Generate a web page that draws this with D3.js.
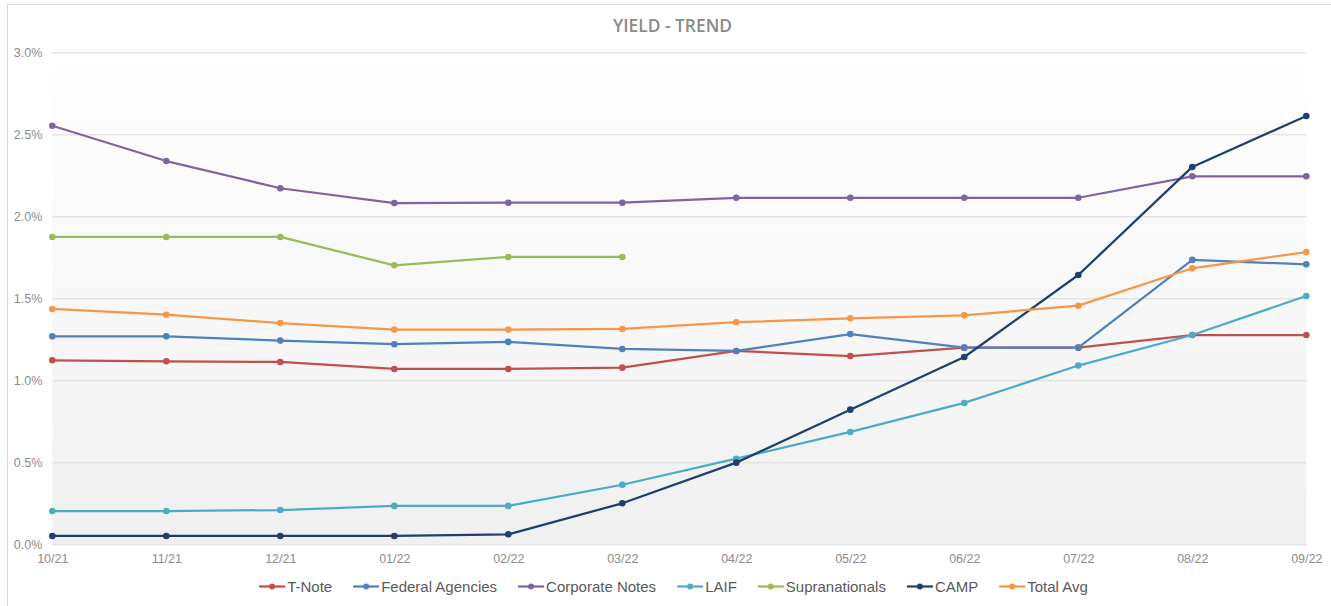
<!DOCTYPE html>
<html>
<head>
<meta charset="utf-8">
<script src="https://cdn.jsdelivr.net/npm/d3@7"></script>
<style>
  html, body { margin: 0; padding: 0; background: #ffffff; }
  svg { display: block; }
</style>
</head>
<body>
<svg id="chart" width="1331" height="606"></svg>
<script>
// Month-end labels
const months = ["10/21", "11/21", "12/21", "01/22", "02/22", "03/22", "04/22", "05/22", "06/22", "07/22", "08/22", "09/22"];

// Yields in percent, one value per month (null where the holding was not held)
const tNote       = [1.122, 1.116, 1.112, 1.069, 1.069, 1.077, 1.179, 1.148, 1.199, 1.199, 1.276, 1.276];
const fedAgencies = [1.268, 1.268, 1.242, 1.220, 1.234, 1.191, 1.179, 1.282, 1.199, 1.199, 1.734, 1.707];
const corpNotes   = [2.552, 2.337, 2.171, 2.081, 2.083, 2.083, 2.113, 2.113, 2.113, 2.113, 2.244, 2.244];
const laif        = [0.203, 0.203, 0.209, 0.234, 0.234, 0.363, 0.522, 0.685, 0.862, 1.090, 1.276, 1.514];
const supras      = [1.874, 1.874, 1.874, 1.701, 1.752, 1.752, null, null, null, null, null, null];
const camp        = [0.051, 0.051, 0.051, 0.051, 0.061, 0.250, 0.498, 0.821, 1.142, 1.642, 2.301, 2.612];
const totalAvg    = [1.435, 1.400, 1.349, 1.309, 1.309, 1.313, 1.354, 1.378, 1.396, 1.455, 1.683, 1.782];

// Value axis ticks
const yTicks = [0, 0.5, 1.0, 1.5, 2.0, 2.5, 3.0];

const seriesNames  = ["T-Note", "Federal Agencies", "Corporate Notes", "LAIF", "Supranationals", "CAMP", "Total Avg"];
const seriesValues = [tNote, fedAgencies, corpNotes, laif, supras, camp, totalAvg];
const seriesColors = ["#c0504d", "#4f81bd", "#8064a2", "#4bacc6", "#9bbb59", "#1f3f6e", "#f79646"];

const series = seriesNames.map((name, i) => ({ name, values: seriesValues[i], color: seriesColors[i] }));

const svg = d3.select("#chart");
const W = 1331;

const plot = { left: 52.3, right: 1306.3, top: 52.3, bottom: 544.3 };

const x = d3.scalePoint().domain(months).range([plot.left, plot.right]);
const y = d3.scaleLinear().domain([0, 3]).range([plot.bottom, plot.top]);

// Outer chart frame
svg.append("rect")
  .attr("x", 7.5).attr("y", 4.5)
  .attr("width", W + 10).attr("height", 620)
  .attr("fill", "#ffffff")
  .attr("stroke", "#d9d9d9").attr("stroke-width", 1);

// Plot area shading
const defs = svg.append("defs");
const grad = defs.append("linearGradient")
  .attr("id", "plotFill").attr("x1", 0).attr("y1", 0).attr("x2", 0).attr("y2", 1);
grad.append("stop").attr("offset", "0%").attr("stop-color", "#ffffff");
grad.append("stop").attr("offset", "100%").attr("stop-color", "#f0f0f0");

svg.append("rect")
  .attr("x", plot.left).attr("y", plot.top)
  .attr("width", plot.right - plot.left).attr("height", plot.bottom - plot.top)
  .attr("fill", "url(#plotFill)");

// Title
svg.append("text")
  .attr("x", 672.5).attr("y", 31.5)
  .attr("text-anchor", "middle")
  .attr("font-family", "'Open Sans', 'Liberation Sans', sans-serif")
  .attr("font-size", 18)
  .attr("font-weight", 600)
  .attr("fill", "#8a8a8a")
  .attr("textLength", 119)
  .attr("lengthAdjust", "spacingAndGlyphs")
  .text("YIELD - TREND");

// Horizontal gridlines + y labels via axis
const yAxis = d3.axisLeft(y)
  .tickValues(yTicks)
  .tickSize(-(plot.right - plot.left))
  .tickPadding(10)
  .tickFormat(d => d3.format(".1f")(d) + "%");

const gy = svg.append("g")
  .attr("transform", `translate(${plot.left},0)`)
  .call(yAxis);
gy.select(".domain").remove();
gy.selectAll(".tick line").attr("stroke", "#d9d9d9").attr("stroke-width", 1);
gy.selectAll(".tick text")
  .attr("fill", "#8c8c8c")
  .attr("font-family", "'Liberation Sans', Arial, sans-serif")
  .attr("font-size", 12.5);

// Category labels
const xAxis = d3.axisBottom(x).tickSize(0).tickPadding(10);
const gx = svg.append("g")
  .attr("transform", `translate(0,${plot.bottom})`)
  .call(xAxis);
gx.select(".domain").remove();
gx.selectAll(".tick text")
  .attr("fill", "#8c8c8c")
  .attr("font-family", "'Liberation Sans', Arial, sans-serif")
  .attr("font-size", 12.5);

// Series lines and markers
const line = d3.line()
  .defined(d => d.v !== null)
  .x(d => x(d.m))
  .y(d => y(d.v));

const gSeries = svg.append("g");
series.forEach(s => {
  const pts = months.map((m, i) => ({ m, v: s.values[i] }));
  gSeries.append("path")
    .datum(pts)
    .attr("fill", "none")
    .attr("stroke", s.color)
    .attr("stroke-width", 2.25)
    .attr("stroke-linejoin", "round")
    .attr("d", line);
  gSeries.selectAll(null)
    .data(pts.filter(d => d.v !== null))
    .enter().append("circle")
    .attr("cx", d => x(d.m))
    .attr("cy", d => y(d.v))
    .attr("r", 3.3)
    .attr("fill", s.color);
});

// Legend
const legend = svg.append("g");
const legendY = 586.5;
const markW = 26, textGap = 2, itemGap = 21;
let cursor = 0;
series.forEach(s => {
  const g = legend.append("g").attr("transform", `translate(${cursor},0)`);
  g.append("line")
    .attr("x1", 0).attr("x2", markW)
    .attr("y1", legendY).attr("y2", legendY)
    .attr("stroke", s.color).attr("stroke-width", 2.25);
  g.append("circle")
    .attr("cx", markW / 2).attr("cy", legendY).attr("r", 3)
    .attr("fill", s.color);
  const t = g.append("text")
    .attr("x", markW + textGap).attr("y", legendY)
    .attr("dy", "0.35em")
    .attr("font-family", "'Liberation Sans', Arial, sans-serif")
    .attr("font-size", 15)
    .attr("fill", "#595959")
    .text(s.name);
  const w = t.node().getComputedTextLength();
  cursor += markW + textGap + w + itemGap;
});
const totalW = cursor - itemGap;
legend.attr("transform", `translate(${673.5 - totalW / 2},0)`);
</script>
</body>
</html>
